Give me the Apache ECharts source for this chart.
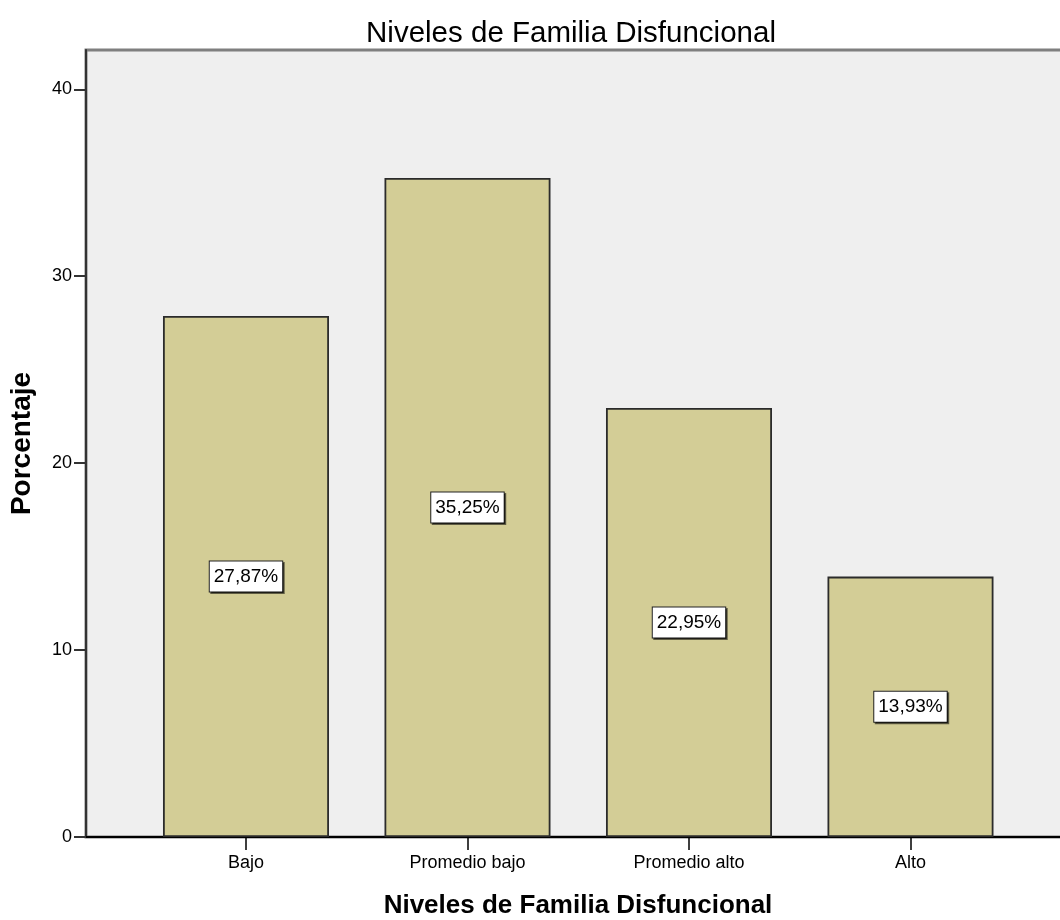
<!DOCTYPE html>
<html>
<head>
<meta charset="utf-8">
<title>Niveles de Familia Disfuncional</title>
<script src="https://cdn.jsdelivr.net/npm/echarts@6/dist/echarts.min.js"></script>
<style>
  html, body { margin: 0; padding: 0; background: #ffffff; }
  #chart { width: 1060px; height: 920px; }
</style>
</head>
<body>
<div id="chart"></div>
<script>
// Category names and percentage of cases in each level
const categories = ['Bajo', 'Promedio bajo', 'Promedio alto', 'Alto'];
const percentages = [27.87, 35.25, 22.95, 13.93];
const yTicks = [0, 10, 20, 30, 40];

const titleText = 'Niveles de Familia Disfuncional';
const xName = 'Niveles de Familia Disfuncional';
const yName = 'Porcentaje';

// Bars sit at positions 1..n on a numeric x axis so the outer padding can be wider than a band
const positions = categories.map((_, i) => i + 1);
const barData = percentages.map((v, i) => [positions[i], v]);

const FONT = '"Liberation Sans", Arial, sans-serif';

const chart = echarts.init(document.getElementById('chart'), null, { renderer: 'canvas' });

chart.setOption({
  backgroundColor: '#ffffff',
  animation: false,
  title: {
    text: titleText,
    left: 566,
    top: 14,
    textAlign: 'center',
    textStyle: { fontFamily: FONT, fontSize: 29.5, fontWeight: 'normal', color: '#000' }
  },
  grid: {
    left: 86,
    width: 984,
    top: 50,
    bottom: 83,
    outerBoundsMode: 'none',
    containLabel: false,
    show: true,
    backgroundColor: '#efefef',
    borderColor: '#7f7f7f',
    borderWidth: 3
  },
  xAxis: {
    type: 'value',
    min: 0.2777,
    max: 4.7201,
    name: xName,
    nameLocation: 'middle',
    nameGap: 56,
    nameTextStyle: { fontFamily: FONT, fontSize: 26, fontWeight: 'bold', color: '#000' },
    axisLine: { show: true, onZero: false, lineStyle: { color: '#000', width: 2 } },
    axisTick: {
      show: true,
      customValues: positions,
      length: 13,
      lineStyle: { color: '#000', width: 1.5 }
    },
    axisLabel: {
      customValues: positions,
      formatter: v => categories[Math.round(v) - 1] || '',
      fontFamily: FONT,
      fontSize: 18,
      color: '#000',
      margin: 17
    },
    splitLine: { show: false }
  },
  yAxis: {
    type: 'value',
    min: 0,
    max: 42.1,
    interval: 10,
    name: yName,
    nameLocation: 'middle',
    nameRotate: 90,
    nameGap: 50,
    nameTextStyle: { fontFamily: FONT, fontSize: 28, fontWeight: 'bold', color: '#000' },
    axisLine: { show: true, lineStyle: { color: '#333', width: 2 } },
    axisTick: {
      show: true,
      customValues: yTicks,
      length: 12,
      lineStyle: { color: '#333', width: 2 }
    },
    axisLabel: {
      customValues: yTicks,
      fontFamily: FONT,
      fontSize: 18,
      color: '#000',
      margin: 14
    },
    splitLine: { show: false }
  },
  series: [{
    type: 'bar',
    data: barData,
    barWidth: 166,
    itemStyle: {
      color: '#d3cd96',
      borderColor: '#2b2b2b',
      borderWidth: 1.8
    },
    label: {
      show: true,
      position: 'inside',
      formatter: p => p.value[1].toFixed(2).replace('.', ',') + '%',
      fontFamily: FONT,
      fontSize: 19,
      color: '#000',
      backgroundColor: '#ffffff',
      borderColor: '#222',
      borderWidth: 1,
      padding: [6, 4, 5, 4],
      shadowColor: 'rgba(0,0,0,0.55)',
      shadowOffsetX: 1.5,
      shadowOffsetY: 1.5,
      shadowBlur: 0
    }
  }]
});
</script>
</body>
</html>
